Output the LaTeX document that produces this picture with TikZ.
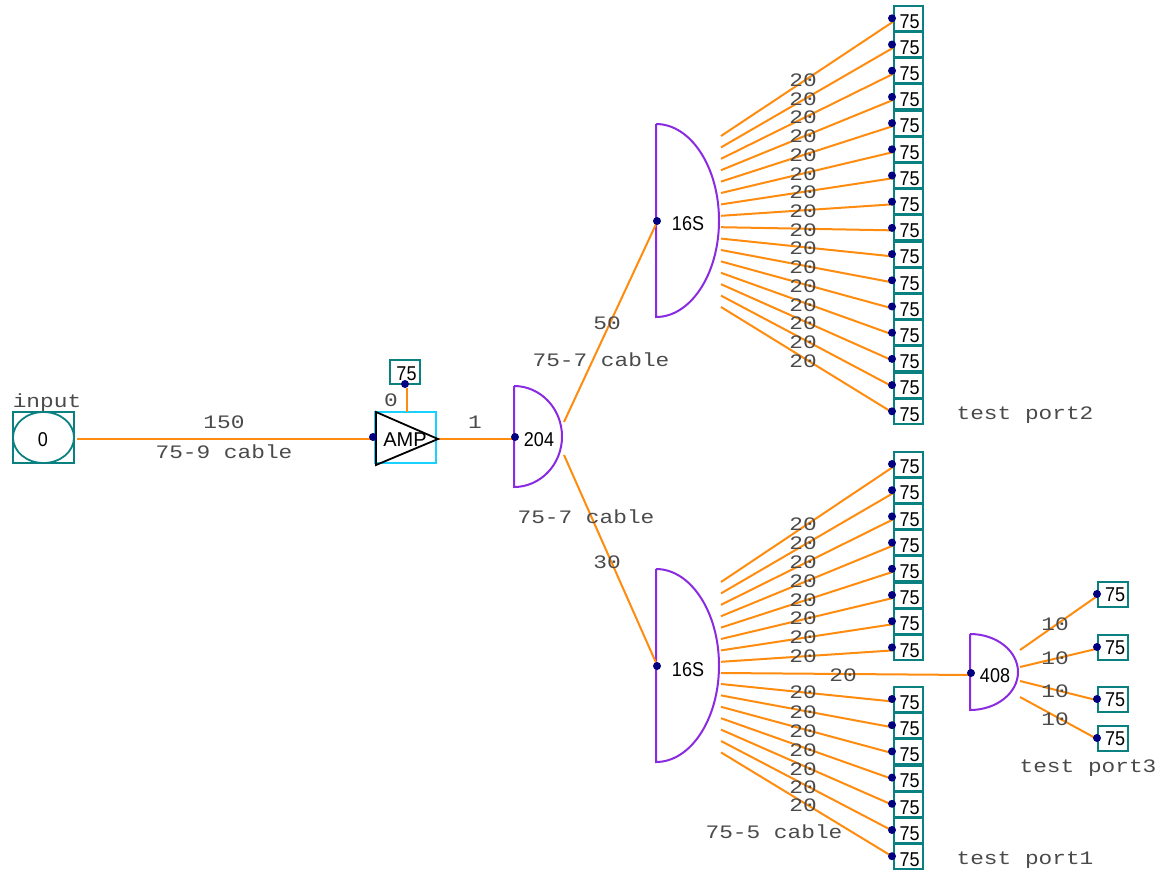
\documentclass[tikz,border=0pt]{standalone}
\usepackage{graphicx}
\usepackage{fontspec}
\usetikzlibrary{shapes.geometric}
\setmainfont{Liberation Sans}
\newfontfamily\monof{Liberation Mono}
\definecolor{wire}{HTML}{FF8C0F}
\definecolor{term}{HTML}{0A8080}
\definecolor{split}{HTML}{8A2BE2}
\definecolor{ampbox}{HTML}{1AD0FF}
\definecolor{pin}{HTML}{000080}
\definecolor{lab}{HTML}{4A4A4A}
\tikzset{
  wirel/.style={draw=wire,line width=2pt},
  termbox/.style={draw=term,line width=2pt,fill=white,minimum width=29pt,minimum height=25pt,inner sep=0pt},
  pindot/.style={circle,fill=pin,minimum size=8pt,inner sep=0pt},
  sanst/.style={font=\fontsize{20}{20}\selectfont,inner sep=0pt,text=black},
  monot/.style={font=\monof\fontsize{19}{19}\selectfont,text=lab,inner sep=0pt,anchor=base,yshift=-6.3pt},
  dome/.style={draw=split,line width=2pt},
}
\newcommand{\mlab}[1]{\scalebox{1.2}[1]{#1}}
\newcommand{\slab}[1]{\scalebox{0.9}[1]{#1}}
\newcommand{\dome}[4]{% x, ytop, ybottom, bulge
  \draw[dome] (#1,#2) -- (#1,#3)
    arc[start angle=-90,end angle=90,x radius=#4pt,y radius={(#3-#2)/2*1pt}];}
% terminal: name, dot-x, centre y
\newcommand{\termin}[3]{%
  \node[termbox] (#1) at (#2+16.5,#3) {};
  \node[sanst] (#1t) at (#2+17.5,#3+3) {\slab{75}};
}
\begin{document}
\begin{tikzpicture}[x=1pt,y=-1pt]
\useasboundingbox (0,0) rectangle (1159,870);
% input
\node[draw=term,line width=2pt,minimum width=61pt,minimum height=51pt,inner sep=0pt] (inbox) at (43.5,437.5) {};
\node[draw=term,line width=1.8pt,ellipse,minimum width=61pt,minimum height=51pt,inner sep=0pt] (insrc) at (43.5,437.5) {};
\node[sanst] (inval) at (43,440) {\slab{0}};
\node[monot] (inlab) at (47,401) {\mlab{input}};
% amp
\node[draw=ampbox,line width=2pt,minimum width=61pt,minimum height=51pt,inner sep=0pt] (ampb) at (405.5,437.5) {};
\coordinate (ampw) at (375,439);
\coordinate (ampe) at (436,439);
\coordinate (indome) at (513,439);
\coordinate (inrt) at (77,439);
\draw[wirel] (inrt) -- (ampw);
\draw[wirel] (ampe) -- (indome);
\draw[black,line width=1.8pt,line join=miter] (376,412) -- (376,465) -- (438,439) -- cycle;
\node[sanst] (ampt) at (405,440) {AMP};
\node[termbox,minimum width=30pt,minimum height=24pt] (fb) at (405,372) {};
\node[sanst] (fbt) at (406.5,374) {\slab{75}};
\coordinate (fbl) at (407,388);
\coordinate (fbr) at (407,412);
\draw[wirel] (fbl) -- (fbr);
\node[pindot] (fbp) at (405,384) {};
\node[pindot] (ampp) at (373,437) {};
% dome 204
\dome{514}{386}{487}{48}
\node[sanst] (d204) at (539,439.5) {\slab{204}};
\node[pindot] (d204p) at (515,437) {};
% 16S domes
\dome{656}{124}{317}{63}
\dome{656}{569}{762}{63}
\node[sanst] (su) at (688,224) {\slab{16S}};
\node[sanst] (sl) at (688,670) {\slab{16S}};
\coordinate (a1) at (564,422);
\coordinate (a2) at (564,455);
\coordinate (supin) at (657,222);
\coordinate (slpin) at (657,665);
\draw[wirel] (a1) -- (supin);
\draw[wirel] (a2) -- (slpin);
\node[pindot] (sup) at (657,221) {};
\node[pindot] (slp) at (657,666) {};
% upper fan
\foreach \i in {0,...,15}{
  \termin{u\i}{892}{18.3+26.2*\i}
  \coordinate (us\i) at (721,136+11.4*\i);
  \coordinate (ue\i) at (893,{18.3+26.2*\i+3.5-0.13*\i});
  \draw[wirel] (us\i) -- (ue\i);
  \node[pindot] (up\i) at (892,18.3+26.2*\i) {};
  \node[monot] (ul\i) at (803,80+18.74*\i) {\mlab{20}};
}
% lower fan, upper part
\foreach \i in {0,...,7}{
  \termin{l\i}{892}{464+26.2*\i}
  \coordinate (ls\i) at (721,582+11.4*\i);
  \coordinate (le\i) at (893,{464+26.2*\i+3});
  \draw[wirel] (ls\i) -- (le\i);
  \node[pindot] (lp\i) at (892,464+26.2*\i) {};
  \node[monot] (ll\i) at (803,524.5+18.8*\i) {\mlab{20}};
}
% lower fan, lower part
\foreach \i/\yl in {0/692,1/712,2/731,3/750,4/769,5/787,6/805}{
  \termin{m\i}{892}{699.5+26.2*\i}
  \coordinate (ms\i) at (721,684+11.4*\i);
  \coordinate (me\i) at (893,{699.5+26.2*\i+2-0.3*\i});
  \draw[wirel] (ms\i) -- (me\i);
  \node[pindot] (mp\i) at (892,699+26.2*\i) {};
  \node[monot] (ml\i) at (803,\yl) {\mlab{20}};
}
% dome 408
\dome{970}{634}{710}{48}
\node[sanst] (d408) at (995,675.5) {\slab{408}};
\coordinate (ms) at (721,673);
\coordinate (mt) at (971,675);
\draw[wirel] (ms) -- (mt);
\node[pindot] (d408p) at (971,673) {};
\node[monot] (mid20) at (843,675) {\mlab{20}};
% test port 3
\foreach \i/\ys/\yb/\yl in {0/650/594/624,1/667/647/658,2/681/699/691,3/697/738/719}{
  \node[termbox,minimum width=30pt] (p\i) at (1113,\yb) {};
  \node[sanst] (p\i t) at (1115,\yb+1) {\slab{75}};
  \coordinate (ps\i) at (1020,\ys);
  \coordinate (pe\i) at (1098,\yb+1.5);
  \draw[wirel] (ps\i) -- (pe\i);
  \node[pindot] (pp\i) at (1097,\yb) {};
  \node[monot] (pl\i) at (1055,\yl) {\mlab{10}};
}
% labels
\node[monot] (t150) at (224,422) {\mlab{150}};
\node[monot] (c9) at (224,452) {\mlab{75-9 cable}};
\node[monot] (t0) at (391,400) {\mlab{0}};
\node[monot] (t1) at (475,422) {\mlab{1}};
\node[monot] (t50) at (607,323) {\mlab{50}};
\node[monot] (t30) at (607,562) {\mlab{30}};
\node[monot] (c7a) at (601,360) {\mlab{75-7 cable}};
\node[monot] (c7b) at (586,517) {\mlab{75-7 cable}};
\node[monot] (c5) at (774,832) {\mlab{75-5 cable}};
\node[monot] (tp2) at (1025,413) {\mlab{test port2}};
\node[monot] (tp1) at (1025,858) {\mlab{test port1}};
\node[monot] (tp3) at (1088,766) {\mlab{test port3}};
\end{tikzpicture}
\end{document}
